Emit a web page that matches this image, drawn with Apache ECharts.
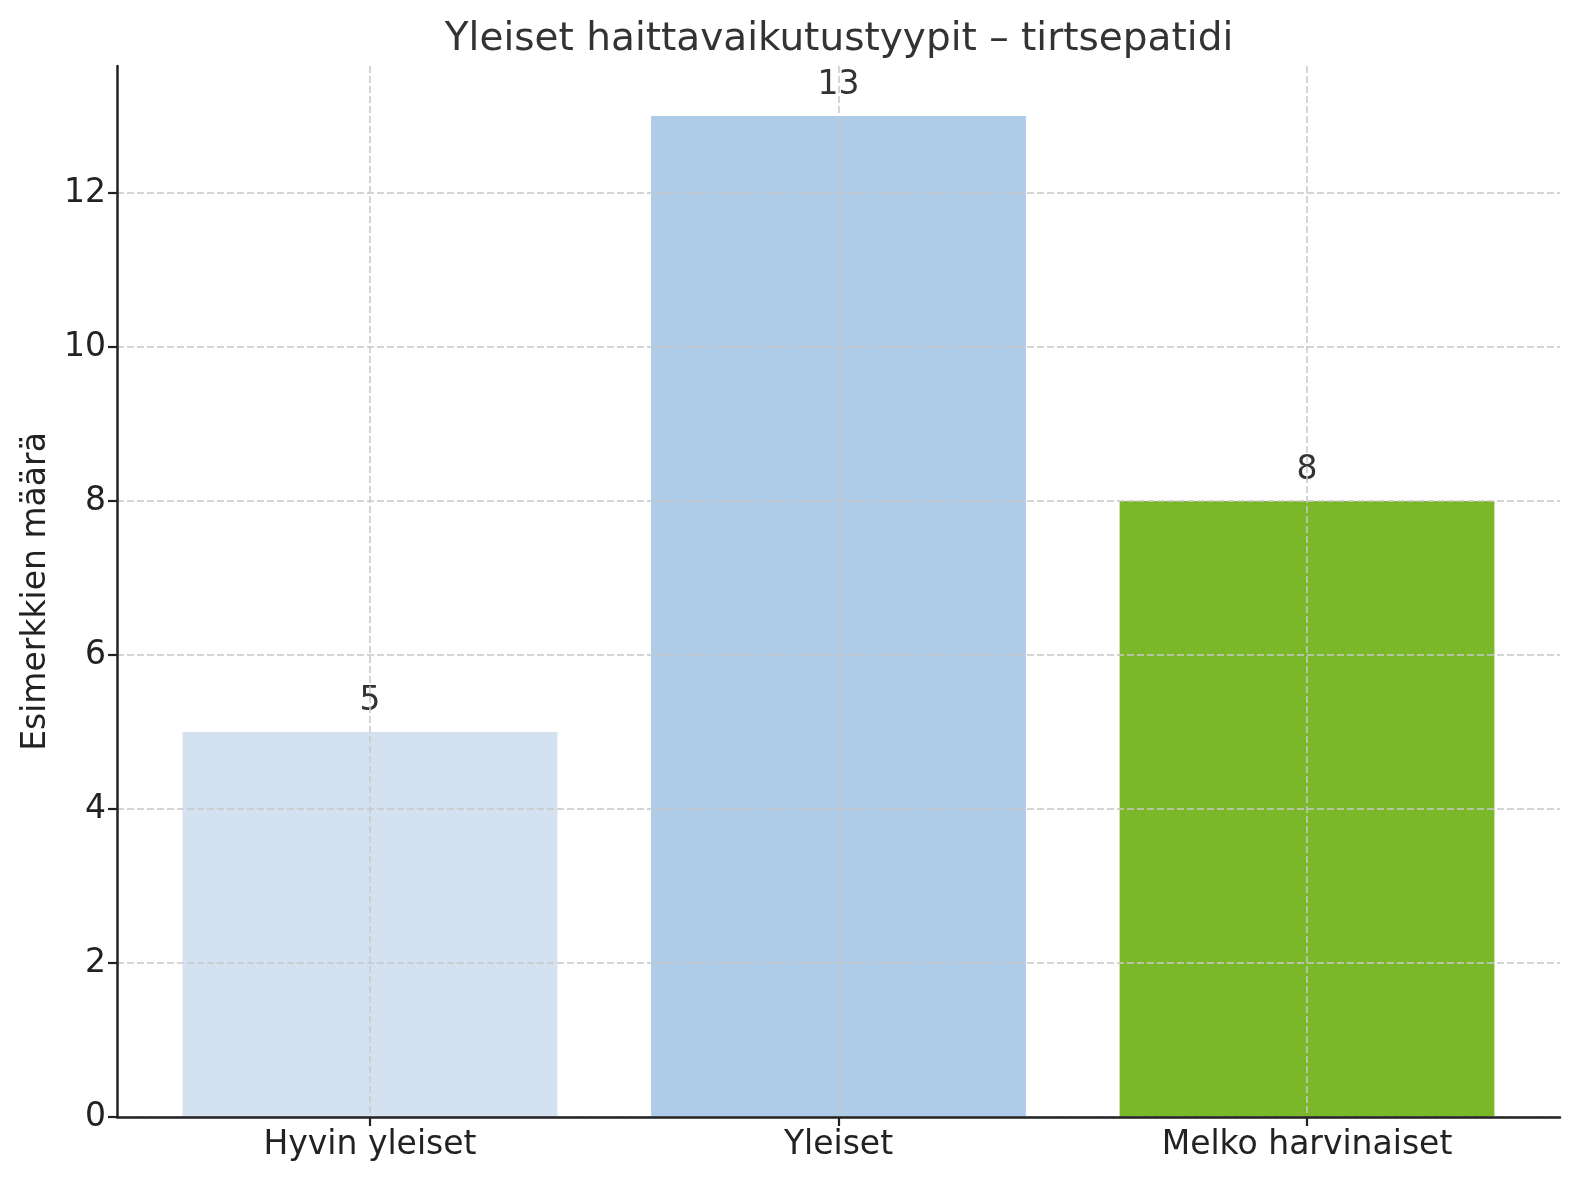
<!DOCTYPE html>
<html>
<head>
<meta charset="utf-8">
<script src="https://cdn.jsdelivr.net/npm/echarts@6/dist/echarts.min.js"></script>
<style>
  html, body { margin: 0; padding: 0; background: #fff; }
  #chart { width: 1580px; height: 1180px; }
</style>
</head>
<body>
<div id="chart"></div>
<script>
const FONT = "DejaVu Sans"

const categories = ["Hyvin yleiset", "Yleiset", "Melko harvinaiset"]
const counts = [5, 13, 8]
const barColors = ["#d4e1f1", "#aecbe7", "#7ab829"]
const yTicks = [0, 2, 4, 6, 8, 10, 12]
const xTicks = [0, 1, 2]

const chart = echarts.init(document.getElementById("chart"), null, { renderer: "canvas" })

const axisColor = "#222"
const gridLine = { show: true, lineStyle: { color: "#c8c8c8", width: 1.5, type: [7, 3] } }

chart.setOption({
  animation: false,
  backgroundColor: "#fff",
  title: {
    text: "Yleiset haittavaikutustyypit – tirtsepatidi",
    left: 834,
    textAlign: "center",
    top: 15,
    textStyle: { fontFamily: FONT, fontSize: 39, fontWeight: "normal", color: "#333" }
  },
  grid: { left: 117, right: 20, top: 66, bottom: 63 },
  xAxis: {
    type: "value",
    min: -0.54,
    max: 2.54,
    z: 3,
    axisLine: { show: true, onZero: false, lineStyle: { color: axisColor, width: 2.5 } },
    axisTick: { show: true, customValues: xTicks, length: 9, lineStyle: { color: axisColor, width: 2.2 } },
    axisLabel: {
      customValues: xTicks,
      formatter: (v) => categories[v] || "",
      fontFamily: FONT, fontSize: 33, color: "#222", margin: 12
    },
    splitLine: gridLine
  },
  yAxis: {
    type: "value",
    min: 0,
    max: 13.65,
    z: 3,
    name: "Esimerkkien määrä",
    nameLocation: "middle",
    nameGap: 60,
    nameTextStyle: { fontFamily: FONT, fontSize: 33, color: "#222" },
    axisLine: { show: true, onZero: false, lineStyle: { color: axisColor, width: 2.5 } },
    axisTick: { show: true, customValues: yTicks, length: 9, lineStyle: { color: axisColor, width: 2.2 } },
    axisLabel: { customValues: yTicks, fontFamily: FONT, fontSize: 33, color: "#222", margin: 11 },
    splitLine: gridLine
  },
  series: [{
    type: "bar",
    barWidth: "80%",
    data: counts.map((v, i) => ({ value: [i, v], itemStyle: { color: barColors[i] } })),
    label: {
      show: true,
      position: "top",
      distance: 14,
      formatter: (p) => p.value[1],
      fontFamily: FONT, fontSize: 33, color: "#333"
    }
  }]
})
</script>
</body>
</html>
